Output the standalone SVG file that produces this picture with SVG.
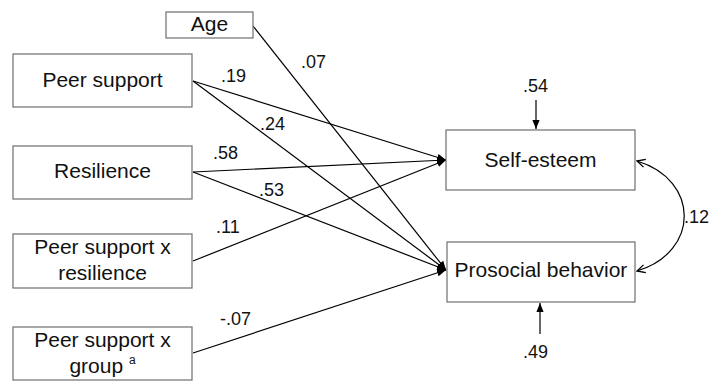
<svg xmlns="http://www.w3.org/2000/svg" width="710" height="381" viewBox="0 0 710 381">
<defs>
<style>
.box{fill:#fff;stroke:#6e6e6e;stroke-width:1.2}
.t{font-family:"Liberation Sans",Arial,sans-serif;font-size:21px;fill:#111;text-anchor:middle}
.l{font-family:"Liberation Sans",Arial,sans-serif;font-size:18px;fill:#111}
.c{stroke:#000;stroke-width:1.2;fill:none}
</style>
<marker id="ah" viewBox="0 0 10 10" refX="10" refY="5" markerWidth="9" markerHeight="9" markerUnits="userSpaceOnUse" orient="auto">
<path d="M0,1 L10,5 L0,9 Z" fill="#000"/>
</marker>
<marker id="ao" viewBox="0 0 10 10" refX="9" refY="5" markerWidth="10" markerHeight="10" markerUnits="userSpaceOnUse" orient="auto-start-reverse">
<path d="M1,1 L9,5 L1,9" fill="none" stroke="#000" stroke-width="1.3"/>
</marker>
</defs>
<rect width="710" height="381" fill="#fff"/>
<g id="connectors">
<line class="c" x1="253" y1="26" x2="446" y2="270" marker-end="url(#ah)"/>
<line class="c" x1="193" y1="81" x2="446" y2="160" marker-end="url(#ah)"/>
<line class="c" x1="193" y1="81" x2="446" y2="270" marker-end="url(#ah)"/>
<line class="c" x1="193" y1="172" x2="446" y2="160" marker-end="url(#ah)"/>
<line class="c" x1="193" y1="172" x2="446" y2="270" marker-end="url(#ah)"/>
<line class="c" x1="193" y1="261" x2="446" y2="160" marker-end="url(#ah)"/>
<line class="c" x1="193" y1="353" x2="446" y2="270" marker-end="url(#ah)"/>
<line class="c" x1="536" y1="100" x2="536" y2="129" marker-end="url(#ah)"/>
<line class="c" x1="540" y1="334" x2="540" y2="303" marker-end="url(#ah)"/>
<path class="c" d="M637,161 C700,180 700,252 637,271" marker-start="url(#ao)" marker-end="url(#ao)"/>
<text class="l" x="301" y="68">.07</text>
<text class="l" x="221" y="82">.19</text>
<text class="l" x="260" y="130">.24</text>
<text class="l" x="213" y="159">.58</text>
<text class="l" x="259" y="196">.53</text>
<text class="l" x="216" y="233">.11</text>
<text class="l" x="220" y="325">-.07</text>
<text class="l" x="523" y="92">.54</text>
<text class="l" x="523" y="358">.49</text>
<text class="l" x="684" y="223">.12</text>
</g>
<g id="age"><rect class="box" x="166" y="12" width="87" height="26"/><text class="t" x="209.5" y="31">Age</text></g>
<g id="peer-support"><rect class="box" x="13" y="54" width="179" height="53"/><text class="t" x="102.5" y="87">Peer support</text></g>
<g id="resilience"><rect class="box" x="13" y="146" width="179" height="53"/><text class="t" x="102.5" y="178">Resilience</text></g>
<g id="ps-x-resilience"><rect class="box" x="13" y="234" width="179" height="54"/><text class="t" x="102.5" y="254">Peer support x</text><text class="t" x="102.5" y="280">resilience</text></g>
<g id="ps-x-group"><rect class="box" x="13" y="327" width="179" height="53"/><text class="t" x="102.5" y="347">Peer support x</text><text class="t" x="102.5" y="373">group <tspan font-size="12" dy="-9">a</tspan></text></g>
<g id="self-esteem"><rect class="box" x="446" y="130" width="189" height="60"/><text class="t" x="540.5" y="167">Self-esteem</text></g>
<g id="prosocial"><rect class="box" x="447" y="242" width="188" height="60"/><text class="t" x="541" y="277">Prosocial behavior</text></g>
</svg>
